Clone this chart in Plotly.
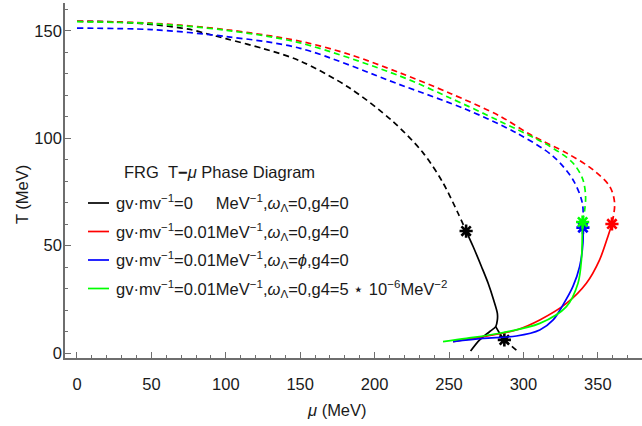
import plotly.graph_objects as go

# ---------------- data (mu in MeV, T in MeV) ----------------
# black: gv/mv = 0
blk_cross_mu = [0, 25, 50, 75, 90, 100, 125, 150, 183, 212, 232.6, 246, 256, 261.5]
blk_cross_T = [154.5, 154.2, 153.0, 150.8, 148.2, 146.4, 141.8, 136.0, 123.5, 108.0, 93.2, 79.2, 65.2, 56.8]
blk_first_mu = [261.5, 266.2, 271.8, 276.3, 280.0, 282.5, 282.5, 281.4, 277.4, 270.6, 264.5]
blk_first_T = [56.8, 49.6, 40.3, 32.5, 24.7, 18.5, 15.4, 12.3, 10.0, 6.1, 0.9]
blk_branch_mu = [281.4, 284.0, 287.2]
blk_branch_T = [12.3, 9.2, 6.1]
blk_tail_mu = [287.2, 292.0, 296.4]
blk_tail_T = [6.1, 3.3, 0.6]
blk_cep_mu = [261.5, 287.2]
blk_cep_T = [56.8, 6.1]

# red: gv/mv = 0.01 MeV^-1, omega = 0, g4 = 0
red_cross_mu = [0, 50, 100, 150, 183.3, 216.9, 250.5, 284, 306.4, 328.9, 346.7, 358, 361.3, 359.5]
red_cross_T = [154.5, 153.6, 150.6, 145.2, 139.0, 130.5, 121.0, 110.4, 101.0, 93.2, 85.4, 77.6, 69.8, 60.1]
red_first_mu = [359.5, 356.8, 351.2, 342.3, 328.9, 311, 295.3, 279.6, 252.7]
red_first_T = [60.1, 54.3, 43.4, 32.5, 23.1, 15.4, 10.7, 8.4, 5.3]
red_cep_mu = [359.5]
red_cep_T = [60.1]

# blue: gv/mv = 0.01 MeV^-1, omega = phi, g4 = 0
blu_cross_mu = [0, 50, 100, 150, 216.9, 261.7, 295.3, 320, 333.3, 339.6, 340]
blu_cross_T = [151.3, 150.6, 147.4, 141.9, 125.0, 113.4, 102.5, 91.6, 80.7, 69.8, 58.4]
blu_first_mu = [340, 340, 337.8, 333.3, 326.6, 320, 311, 295.3, 272.9, 252.7]
blu_first_T = [58.4, 51.2, 40.3, 31.0, 22.4, 15.4, 10.7, 7.9, 6.8, 5.3]
blu_cep_mu = [340]
blu_cep_T = [58.4]

# green: gv/mv = 0.01 MeV^-1, omega = 0, g4 = 5e-6 MeV^-2
grn_cross_mu = [0, 50, 100, 150, 216.9, 250, 284, 317.7, 333.3, 340, 341.8, 341.2, 339.8]
grn_cross_T = [154.3, 153.4, 150.3, 144.4, 129.0, 119.0, 108.0, 96.3, 88.5, 80.7, 72.9, 66.7, 61.0]
grn_first_mu = [339.8, 339.6, 339.0, 336.7, 328.9, 311, 284, 261.7, 246]
grn_first_T = [61.0, 55.8, 43.4, 32.5, 21.6, 13.8, 9.2, 6.8, 5.3]
grn_cep_mu = [339.8]
grn_cep_T = [61.0]

x_ticks = [0, 50, 100, 150, 200, 250, 300, 350]
y_ticks = [0, 50, 100, 150]

legend_title = "FRG\u00a0\u00a0T<b>\u2212</b><i>\u03bc</i> Phase Diagram"
legend_labels = [
    "gv\u00b7mv<sup>\u22121</sup>=0\u00a0\u00a0\u00a0\u00a0\u00a0MeV<sup>\u22121</sup>,<i>\u03c9</i><sub>\u039b</sub>=0,g4=0",
    "gv\u00b7mv<sup>\u22121</sup>=0.01MeV<sup>\u22121</sup>,<i>\u03c9</i><sub>\u039b</sub>=0,g4=0",
    "gv\u00b7mv<sup>\u22121</sup>=0.01MeV<sup>\u22121</sup>,<i>\u03c9</i><sub>\u039b</sub>=<i>\u03d5</i>,g4=0",
    "gv\u00b7mv<sup>\u22121</sup>=0.01MeV<sup>\u22121</sup>,<i>\u03c9</i><sub>\u039b</sub>=0,g4=5\u00a0\u22c6\u00a010<sup>\u22126</sup>MeV<sup>\u22122</sup>",
]
colors = ["#000000", "#ff0000", "#0000ff", "#00ff00"]

series = [
    (blk_cross_mu, blk_cross_T, [(blk_first_mu, blk_first_T), (blk_branch_mu, blk_branch_T)],
     [(blk_tail_mu, blk_tail_T)], blk_cep_mu, blk_cep_T),
    (red_cross_mu, red_cross_T, [(red_first_mu, red_first_T)], [], red_cep_mu, red_cep_T),
    (blu_cross_mu, blu_cross_T, [(blu_first_mu, blu_first_T)], [], blu_cep_mu, blu_cep_T),
    (grn_cross_mu, grn_cross_T, [(grn_first_mu, grn_first_T)], [], grn_cep_mu, grn_cep_T),
]

LW = 1.7
DASH = "6px,4px"

fig = go.Figure()
for (cmu, cT, solids, dashes, smu, sT), col in zip(series, colors):
    fig.add_trace(go.Scatter(x=cmu, y=cT, mode="lines",
                             line=dict(color=col, width=LW, dash=DASH, shape="spline", smoothing=0.9)))
    for mu, T in dashes:
        fig.add_trace(go.Scatter(x=mu, y=T, mode="lines",
                                 line=dict(color=col, width=LW, dash=DASH, shape="spline")))
    for mu, T in solids:
        fig.add_trace(go.Scatter(x=mu, y=T, mode="lines",
                                 line=dict(color=col, width=LW, shape="spline", smoothing=0.9)))
    fig.add_trace(go.Scatter(x=smu, y=sT, mode="markers",
                             marker=dict(symbol="asterisk-open", size=11, color=col,
                                         line=dict(color=col, width=2.6))))

# plot-area geometry in pixels
W, H = 642, 426
ML, MR, MT, MB = 65, 0, 3, 68
PW, PH = W - ML - MR, H - MT - MB


def px(x):
    return (x - ML) / PW


def py(y):
    return (H - MB - y) / PH


TXT = "#1a1a1a"
AX = "#6e6e6e"
FONT = "Liberation Sans, Arial, sans-serif"

annotations = []
shapes = []
# legend block
annotations.append(dict(x=px(122), y=py(171.5), xref="paper", yref="paper", text=legend_title,
                        showarrow=False, xanchor="left", yanchor="middle",
                        font=dict(family=FONT, size=16.5, color=TXT)))
rows_y = [203, 231.5, 260, 288.5]
for yy, lab, col in zip(rows_y, legend_labels, colors):
    shapes.append(dict(type="line", xref="paper", yref="paper", x0=px(88), x1=px(109),
                       y0=py(yy), y1=py(yy), line=dict(color=col, width=LW)))
    annotations.append(dict(x=px(114), y=py(yy), xref="paper", yref="paper", text=lab,
                            showarrow=False, xanchor="left", yanchor="middle",
                            font=dict(family=FONT, size=16.5, color=TXT)))
# axis titles
annotations.append(dict(x=px(337), y=py(410), xref="paper", yref="paper", text="<i>\u03bc</i> (MeV)",
                        showarrow=False, xanchor="center", yanchor="middle",
                        font=dict(family=FONT, size=16.5, color=TXT)))
annotations.append(dict(x=px(22), y=py(195), xref="paper", yref="paper", text="T (MeV)",
                        showarrow=False, xanchor="center", yanchor="middle", textangle=-90,
                        font=dict(family=FONT, size=16.5, color=TXT)))

fig.update_layout(
    width=W, height=H,
    margin=dict(l=ML, r=MR, t=MT, b=MB),
    plot_bgcolor="white", paper_bgcolor="white",
    showlegend=False,
    font=dict(family=FONT, size=16.5, color=TXT),
    annotations=annotations,
    shapes=shapes,
)
fig.update_xaxes(
    range=[-8.06, 379.7], showgrid=False, zeroline=False,
    showline=True, linecolor=AX, linewidth=1.6,
    tickmode="array", tickvals=x_ticks, ticktext=[str(v) for v in x_ticks],
    ticks="inside", ticklen=6, tickwidth=1, tickcolor=AX,
    minor=dict(ticks="inside", ticklen=3.5, tickwidth=1, tickcolor=AX, tick0=0, dtick=10),
    ticklabelstandoff=10,
)
fig.update_yaxes(
    range=[-2.33, 163.0], showgrid=False, zeroline=False,
    showline=True, linecolor=AX, linewidth=1.6,
    tickmode="array", tickvals=y_ticks, ticktext=[str(v) for v in y_ticks],
    ticks="inside", ticklen=6, tickwidth=1, tickcolor=AX,
    minor=dict(ticks="inside", ticklen=3.5, tickwidth=1, tickcolor=AX, tick0=0, dtick=10),
    ticklabelstandoff=-2,
)

fig.write_html("out.html")
